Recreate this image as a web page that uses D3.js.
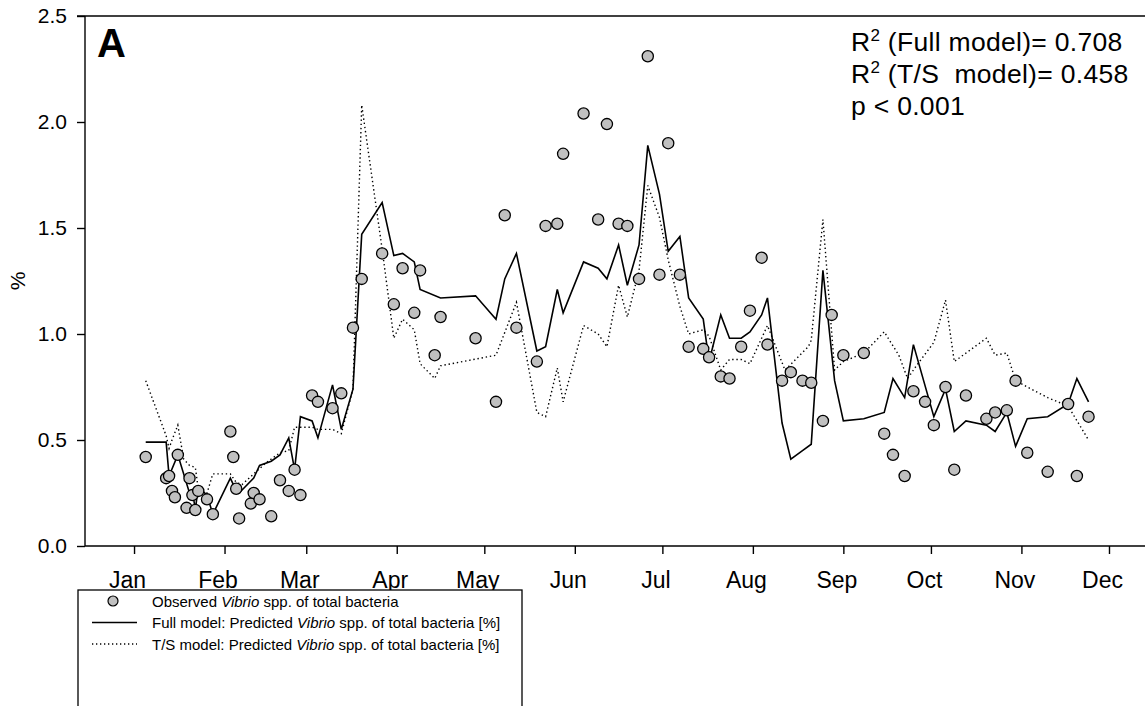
<!DOCTYPE html>
<html>
<head>
<meta charset="utf-8">
<script src="https://cdn.jsdelivr.net/npm/d3@7"></script>
<style>
  body { margin: 0; background: #fff; }
  svg { display: block; }
  text { font-family: Arial, "Liberation Sans", sans-serif; fill: #000; }
</style>
</head>
<body>
<svg id="chart" width="1145" height="706"></svg>
<script>
// Sampling days, counted from 1 January
const obsDays = [4,11,12,13,14,15,18,19,20,21,22,25,27,33,34,35,36,40,41,43,47,50,53,55,57,61,63,68,71,75,
  78,85,89,92,96,98,103,105,117,124,127,131,138,141,145,147,154,159,162,166,169,173,176,180,183,187,190,195,197,201,
  204,208,211,215,217,222,225,229,232,236,239,243,250,257,260,264,267,271,274,278,281,285,292,295,299,302,306,313,320,323,327];
// Observed Vibrio spp. share of total bacteria (%)
const obsValues = [0.42,0.32,0.33,0.26,0.23,0.43,0.18,0.32,0.24,0.17,0.26,0.22,0.15,0.54,0.42,0.27,0.13,0.20,0.25,0.22,
  0.14,0.31,0.26,0.36,0.24,0.71,0.68,0.65,0.72,1.03,1.26,1.38,1.14,1.31,1.10,1.30,0.90,1.08,0.98,0.68,
  1.56,1.03,0.87,1.51,1.52,1.85,2.04,1.54,1.99,1.52,1.51,1.26,2.31,1.28,1.90,1.28,0.94,0.93,0.89,0.80,
  0.79,0.94,1.11,1.36,0.95,0.78,0.82,0.78,0.77,0.59,1.09,0.90,0.91,0.53,0.43,0.33,0.73,0.68,0.57,0.75,
  0.36,0.71,0.60,0.63,0.64,0.78,0.44,0.35,0.67,0.33,0.61];

// Full model prediction
const fullDays = [4,11,12,15,19,20,21,22,25,27,33,35,36,41,43,47,50,53,55,57,61,63,68,71,75,78,85,89,92,96,
  98,105,117,124,127,131,138,141,145,147,154,159,162,166,169,173,176,180,183,187,190,195,197,201,204,208,211,215,217,222,
  225,229,232,236,240,243,250,257,260,264,267,274,278,281,285,292,295,299,302,306,313,320,323,327];
const fullValues = [0.49,0.49,0.33,0.43,0.25,0.26,0.17,0.28,0.24,0.15,0.32,0.26,0.25,0.32,0.38,0.40,0.43,0.51,0.36,0.61,
  0.59,0.51,0.76,0.55,0.74,1.47,1.62,1.37,1.38,1.34,1.21,1.17,1.18,1.07,1.26,1.38,0.92,0.94,1.21,1.10,
  1.34,1.31,1.26,1.42,1.23,1.42,1.89,1.66,1.39,1.46,1.17,1.07,0.87,1.09,0.98,0.98,1.01,1.09,1.17,0.58,
  0.41,0.45,0.48,1.30,0.78,0.59,0.60,0.63,0.79,0.70,0.95,0.61,0.74,0.54,0.59,0.57,0.54,0.63,0.47,0.60,
  0.61,0.67,0.79,0.68];

// Temperature/salinity model prediction
const tsDays = [4,11,12,13,15,17,19,21,22,25,27,33,35,37,41,45,50,53,55,57,61,63,68,71,75,78,85,89,92,96,
  98,103,105,124,131,138,141,145,147,154,159,162,166,169,173,176,180,183,187,190,195,197,201,204,208,211,217,223,231,232,
  236,240,243,250,257,262,265,268,274,278,281,292,295,299,302,306,313,320,327];
const tsValues = [0.78,0.52,0.46,0.50,0.57,0.41,0.38,0.37,0.27,0.25,0.34,0.34,0.30,0.29,0.34,0.39,0.44,0.45,0.56,0.56,
  0.56,0.55,0.55,0.53,0.74,2.08,1.40,0.98,1.07,1.02,0.86,0.79,0.85,0.90,1.15,0.63,0.61,0.84,0.68,1.04,
  1.00,0.94,1.23,1.08,1.30,1.70,1.55,1.35,1.13,1.00,1.02,0.99,0.83,0.88,0.88,0.86,1.04,0.83,0.94,0.97,
  1.54,0.83,0.87,0.91,1.01,0.90,0.79,0.85,0.96,1.16,0.87,0.98,0.90,0.91,0.78,0.75,0.70,0.66,0.50];

const yTicks = [0.0, 0.5, 1.0, 1.5, 2.0, 2.5];
const statLines = [
  {pre: "R", sup: "2", post: " (Full model)= 0.708"},
  {pre: "R", sup: "2", post: " (T/S  model)= 0.458"},
  {pre: "p < 0.001", sup: "", post: ""}
];
const legendItems = [
  {kind: "dot",    pre: "Observed ",              ital: "Vibrio", post: " spp. of total bacteria"},
  {kind: "solid",  pre: "Full model: Predicted ", ital: "Vibrio", post: " spp. of total bacteria [%]"},
  {kind: "dotted", pre: "T/S model: Predicted ",  ital: "Vibrio", post: " spp. of total bacteria [%]"}
];

const svg = d3.select("#chart");
const plotLeft = 85, plotTop = 16, plotBottom = 546, plotRight = 1145;

const jan1 = Date.UTC(2011, 0, 1);
const toDate = d => new Date(jan1 + d * 864e5);
const x = d3.scaleUtc()
  .domain([toDate(-16.8), toDate(380)])
  .range([plotLeft, plotLeft + (380 + 16.8) * 2.919]);
const y = d3.scaleLinear().domain([0, 2.5]).range([plotBottom, plotTop]);

const months = d3.utcMonth.range(new Date(jan1), toDate(335));

// frame: top line and x-axis baseline
svg.append("line").attr("x1", plotLeft - 8).attr("x2", plotRight).attr("y1", plotTop).attr("y2", plotTop)
  .attr("stroke", "#000").attr("stroke-width", 1.4);
svg.append("line").attr("x1", plotLeft).attr("x2", plotRight).attr("y1", plotBottom).attr("y2", plotBottom)
  .attr("stroke", "#000").attr("stroke-width", 1.4);

// y axis
const yAxis = svg.append("g").attr("transform", `translate(${plotLeft},0)`)
  .call(d3.axisLeft(y).tickValues(yTicks).tickSize(8).tickFormat(d3.format(".1f")));
yAxis.select(".domain").attr("stroke-width", 1.4).attr("d", `M0,${plotTop}V${plotBottom}`);
yAxis.selectAll(".tick line").attr("stroke-width", 1.4);
yAxis.selectAll(".tick text").attr("x", -18).attr("font-size", 21)
  .style("font-family", "Arial, 'Liberation Sans', sans-serif");

// x axis
const xAxis = svg.append("g").attr("transform", `translate(0,${plotBottom})`)
  .call(d3.axisBottom(x).tickValues(months).tickSize(8).tickFormat(d3.utcFormat("%b")));
xAxis.select(".domain").remove();
xAxis.selectAll(".tick line").attr("stroke-width", 1.4);
xAxis.selectAll(".tick text").attr("y", 42).attr("dy", null).attr("x", -7).attr("font-size", 23)
  .style("font-family", "Arial, 'Liberation Sans', sans-serif");

// y title
svg.append("text").attr("transform", "translate(25,281) rotate(-90)")
  .attr("text-anchor", "middle").attr("font-size", 21).text("%");

// model lines
const lineGen = d3.line().x(d => x(toDate(d[0]))).y(d => y(d[1]));
svg.append("path").datum(tsDays.map((d, i) => [d, tsValues[i]]))
  .attr("d", lineGen).attr("fill", "none").attr("stroke", "#000")
  .attr("stroke-width", 1.4).attr("stroke-dasharray", "1.4,2.8");
svg.append("path").datum(fullDays.map((d, i) => [d, fullValues[i]]))
  .attr("d", lineGen).attr("fill", "none").attr("stroke", "#000")
  .attr("stroke-width", 1.6).attr("stroke-linejoin", "miter");

// observations
svg.append("g").selectAll("circle")
  .data(obsDays.map((d, i) => [d, obsValues[i]]))
  .join("circle")
  .attr("cx", d => x(toDate(d[0]))).attr("cy", d => y(d[1])).attr("r", 5.6)
  .attr("fill", "#c0c0c0").attr("stroke", "#000").attr("stroke-width", 1.3);

// panel letter
svg.append("text").attr("x", 97).attr("y", 57).attr("font-size", 40).attr("font-weight", "bold").text("A");

// fit statistics
statLines.forEach((s, i) => {
  const t = svg.append("text").attr("x", 851).attr("y", 51 + i * 32)
    .attr("font-size", 26.5).attr("letter-spacing", 0.3).style("white-space", "pre");
  t.append("tspan").text(s.pre);
  if (s.sup) t.append("tspan").attr("font-size", 17).attr("dy", -10).text(s.sup);
  if (s.post) t.append("tspan").attr("dy", s.sup ? 10 : 0).text(s.post);
});

// legend
const lg = svg.append("g");
lg.append("rect").attr("x", 78).attr("y", 590).attr("width", 444).attr("height", 140)
  .attr("fill", "#fff").attr("stroke", "#000").attr("stroke-width", 1.3);
legendItems.forEach((it, i) => {
  const cy = 601 + i * 21.5;
  if (it.kind === "dot") {
    lg.append("circle").attr("cx", 113).attr("cy", cy).attr("r", 5)
      .attr("fill", "#c0c0c0").attr("stroke", "#000").attr("stroke-width", 1.2);
  } else {
    lg.append("line").attr("x1", 92).attr("x2", 137).attr("y1", cy).attr("y2", cy)
      .attr("stroke", "#000").attr("stroke-width", it.kind === "solid" ? 1.4 : 1.3)
      .attr("stroke-dasharray", it.kind === "dotted" ? "1.3,2.7" : null);
  }
  const t = lg.append("text").attr("x", 152).attr("y", cy + 5.5).attr("font-size", 15);
  t.append("tspan").text(it.pre);
  t.append("tspan").attr("font-style", "italic").text(it.ital);
  t.append("tspan").text(it.post);
});
</script>
</body>
</html>
